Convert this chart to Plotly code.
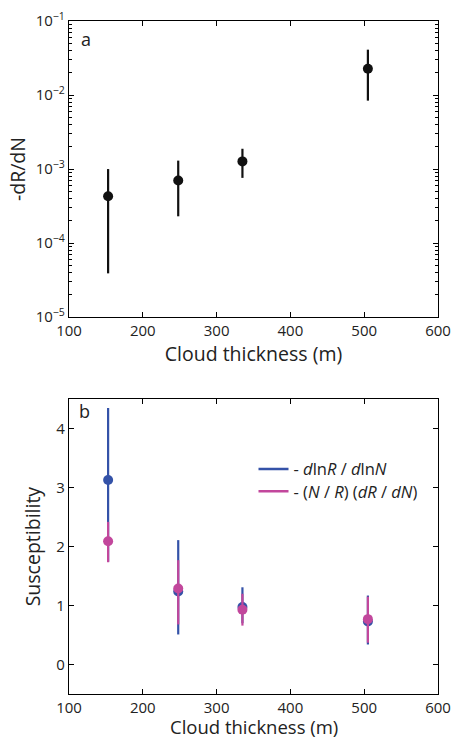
import plotly.graph_objects as go

# ---- data ----
thickness = [153, 248, 335, 505]

# panel a: -dR/dN
drdn = [4.3e-4, 7.0e-4, 1.27e-3, 2.26e-2]
drdn_hi = [1.0e-3, 1.3e-3, 1.88e-3, 4.1e-2]
drdn_lo = [3.9e-5, 2.3e-4, 7.6e-4, 8.4e-3]

# panel b: susceptibility
s_ln = [3.13, 1.24, 0.975, 0.73]
s_ln_hi = [4.35, 2.11, 1.31, 1.17]
s_ln_lo = [1.745, 0.51, 0.70, 0.34]

s_nr = [2.09, 1.29, 0.93, 0.77]
s_nr_hi = [2.42, 1.77, 1.20, 1.15]
s_nr_lo = [1.735, 0.68, 0.66, 0.37]

ytick_a_vals = [1e-5, 1e-4, 1e-3, 1e-2, 1e-1]
ytick_a_text = ["10<sup>−5</sup>", "10<sup>−4</sup>", "10<sup>−3</sup>", "10<sup>−2</sup>", "10<sup>−1</sup>"]
xtick_vals = [100, 200, 300, 400, 500, 600]
ytick_b_vals = [0, 1, 2, 3, 4]

BLUE = "#3452a8"
PINK = "#c2479c"
FONT = "Open Sans"

def err(v, hi, lo):
    return [h - x for h, x in zip(hi, v)], [x - l for l, x in zip(lo, v)]

fig = go.Figure()

up, dn = err(drdn, drdn_hi, drdn_lo)
fig.add_trace(go.Scatter(x=thickness, y=drdn, mode="markers",
                         marker=dict(color="#111111", size=10),
                         error_y=dict(type="data", array=up, arrayminus=dn, width=0, thickness=2.2, color="#111111"),
                         xaxis="x", yaxis="y", showlegend=False))

up, dn = err(s_ln, s_ln_hi, s_ln_lo)
fig.add_trace(go.Scatter(x=thickness, y=s_ln, mode="markers",
                         marker=dict(color=BLUE, size=10),
                         error_y=dict(type="data", array=up, arrayminus=dn, width=0, thickness=2.2, color=BLUE),
                         xaxis="x2", yaxis="y2", showlegend=False))
up, dn = err(s_nr, s_nr_hi, s_nr_lo)
fig.add_trace(go.Scatter(x=thickness, y=s_nr, mode="markers",
                         marker=dict(color=PINK, size=10),
                         error_y=dict(type="data", array=up, arrayminus=dn, width=0, thickness=2.2, color=PINK),
                         xaxis="x2", yaxis="y2", showlegend=False))

# legend entries (two separate legends to control spacing)
fig.add_trace(go.Scatter(x=[None], y=[None], mode="lines", line=dict(color=BLUE, width=2.5),
                         name="- <i>d</i>ln<i>R</i> / <i>d</i>ln<i>N</i>", xaxis="x2", yaxis="y2",
                         legend="legend"))
fig.add_trace(go.Scatter(x=[None], y=[None], mode="lines", line=dict(color=PINK, width=2.5),
                         name="- (<i>N</i> / <i>R</i>) (<i>dR</i> / <i>dN</i>)", xaxis="x2", yaxis="y2",
                         legend="legend2"))

minor_log = [m * 10.0 ** k for k in range(-5, -1) for m in range(2, 10)]

axis_common = dict(showline=True, linecolor="black", linewidth=1.3, mirror="ticks",
                   ticks="inside", ticklen=5, tickcolor="black", showgrid=False, zeroline=False,
                   automargin=False,
                   tickfont=dict(size=15, color="#222", family=FONT))
TITLE_SIZE = 19.5
legend_common = dict(x=0.5, xanchor="left", yanchor="middle", bgcolor="rgba(0,0,0,0)",
                     font=dict(size=16.5, family=FONT, color="#222"), itemwidth=30)

fig.update_layout(
    template="none",
    width=453, height=740, autosize=False,
    margin=dict(l=69, r=15, t=21, b=46, autoexpand=False),
    paper_bgcolor="white", plot_bgcolor="white",
    font=dict(family=FONT, color="#222"),
    xaxis=dict(domain=[0, 1], anchor="y", range=[100, 600], tickvals=xtick_vals,
               title=dict(text="Cloud thickness (m)", font=dict(size=TITLE_SIZE), standoff=2), **axis_common),
    yaxis=dict(domain=[0.560, 1], anchor="x", type="log", range=[-5, -1],
               tickvals=ytick_a_vals, ticktext=ytick_a_text,
               minor=dict(tickvals=minor_log, ticks="inside", ticklen=2.5, tickcolor="black"),
               title=dict(text="-dR/dN", font=dict(size=TITLE_SIZE), standoff=4), **axis_common),
    xaxis2=dict(domain=[0, 1], anchor="y2", range=[100, 600], tickvals=xtick_vals, **axis_common),
    yaxis2=dict(domain=[0, 0.438], anchor="x2", range=[-0.5, 4.5], tickvals=ytick_b_vals,
                title=dict(text="Susceptibility", font=dict(size=TITLE_SIZE), standoff=10), **axis_common),
    legend=dict(y=0.334, **legend_common),
    legend2=dict(y=0.301, **legend_common),
    annotations=[
        dict(text="a", xref="x domain", yref="y domain", x=0.027, y=0.94, showarrow=False,
             xanchor="left", yanchor="middle", font=dict(size=18, family=FONT, color="#222")),
        dict(text="b", xref="x2 domain", yref="y2 domain", x=0.022, y=0.96, showarrow=False,
             xanchor="left", yanchor="middle", font=dict(size=18, family=FONT, color="#222")),
        dict(text="Cloud thickness (m)", xref="x2 domain", yref="paper", x=0.5, y=-0.049,
             showarrow=False, xanchor="center", yanchor="middle", borderpad=0,
             font=dict(size=18.5, family=FONT, color="#222")),
    ],
)

fig.write_html(
    "out.html",
    config={"displayModeBar": False, "responsive": False},
    post_script=("document.documentElement.style.margin='0';document.documentElement.style.overflow='hidden';"
                 "document.body.style.margin='0';document.body.style.padding='0';document.body.style.overflow='hidden';"),
)
